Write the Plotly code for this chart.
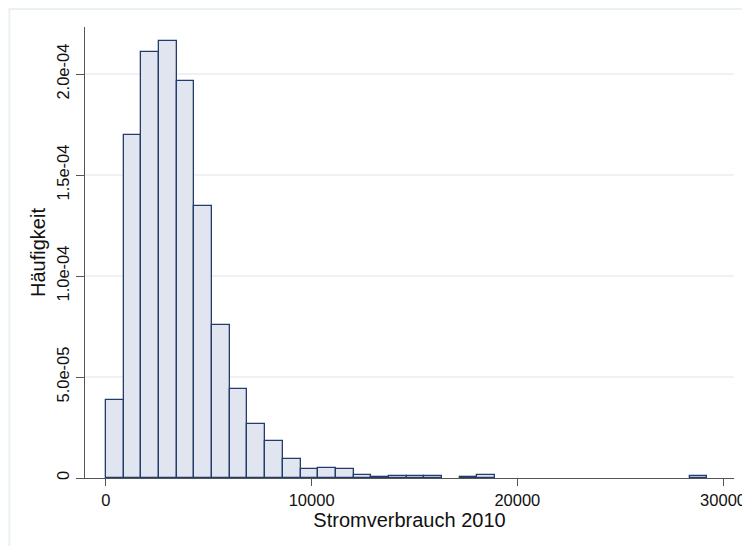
import plotly.graph_objects as go

# Histogram (density) of electricity consumption 2010
bin_start = 0
bin_width = 860
density_e5 = [3.88, 17.0, 21.1, 21.65, 19.64, 13.47, 7.59, 4.39, 2.67, 1.83,
              0.93, 0.43, 0.50, 0.43, 0.13, 0.03, 0.10, 0.10, 0.10, 0.0,
              0.05, 0.15, 0.0, 0.0, 0.0, 0.0, 0.0, 0.0, 0.0, 0.0,
              0.0, 0.0, 0.0, 0.12]
x_tickvals = [0, 10000, 20000, 30000]
x_ticktext = ["0", "10000", "20000", "30000"]
y_tickvals = [0, 5e-5, 1e-4, 1.5e-4, 2e-4]
y_ticktext = ["0", "5.0e-05", "1.0e-04", "1.5e-04", "2.0e-04"]
x_title = "Stromverbrauch 2010"
y_title = "Häufigkeit"

# empty bins are not drawn
centers = [bin_start + (i + 0.5) * bin_width for i, d in enumerate(density_e5) if d > 0]
dens = [d * 1e-5 for d in density_e5 if d > 0]

fig = go.Figure()
fig.add_trace(go.Bar(
    x=centers, y=dens, width=[bin_width] * len(dens),
    marker=dict(color="#E1E5F0", line=dict(color="#233C6C", width=1.3)),
    hoverinfo="x+y",
))

FONT = "Liberation Sans, Arial, sans-serif"
ML, MT, PW, PH = 77, 19, 652, 451
fig.update_layout(
    width=750, height=546,
    margin=dict(l=ML, r=750 - ML - PW, t=MT, b=546 - MT - PH),
    paper_bgcolor="white", plot_bgcolor="white",
    bargap=0, showlegend=False,
    font=dict(family=FONT, color="#111111"),
    shapes=[dict(type="rect", xref="paper", yref="paper",
                 x0=(1 - ML) / PW, x1=1.2, y0=-0.3, y1=(MT + PH - 1) / PH,
                 line=dict(color="#EAF1F3", width=2), fillcolor="rgba(0,0,0,0)",
                 layer="below")],
)
fig.update_xaxes(
    range=[-1016, 30532], tickvals=x_tickvals, ticktext=x_ticktext,
    showline=True, linecolor="#555555", linewidth=1.3,
    ticks="outside", ticklen=7, tickwidth=1.3, tickcolor="#555555",
    showgrid=False, zeroline=False,
    tickfont=dict(size=16.5, family=FONT, color="#111111"),
    title=dict(text=x_title, font=dict(size=20, family=FONT, color="#111111"), standoff=3),
)
fig.update_yaxes(
    range=[0, 2.233e-4], tickvals=y_tickvals, ticktext=y_ticktext,
    tickangle=-90,
    showline=True, linecolor="#555555", linewidth=1.3,
    ticks="outside", ticklen=8, tickwidth=1.3, tickcolor="#555555",
    showgrid=True, gridcolor="#EDF3F4", gridwidth=1.5, zeroline=False,
    tickfont=dict(size=16.5, family=FONT, color="#111111"),
    title=dict(text=y_title, font=dict(size=20, family=FONT, color="#111111"), standoff=3),
)

fig.write_html("out.html")
